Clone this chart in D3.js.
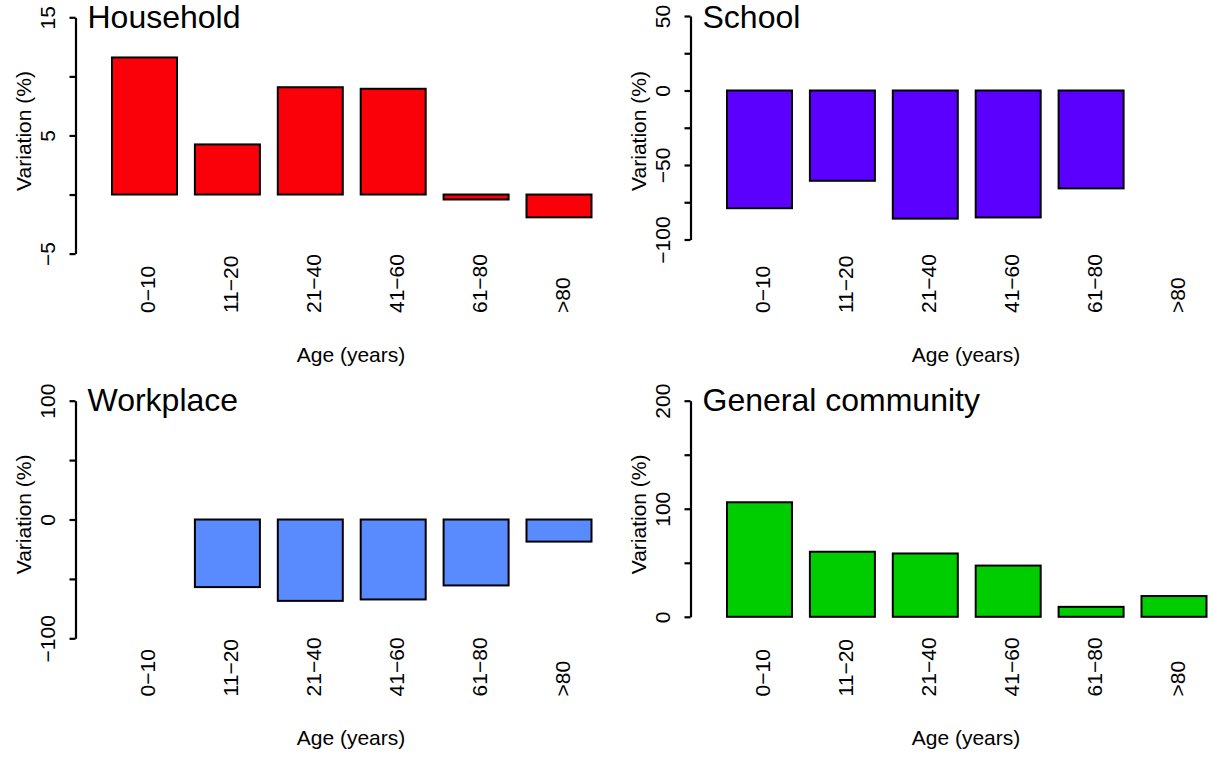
<!DOCTYPE html>
<html>
<head>
<meta charset="utf-8">
<script src="https://cdn.jsdelivr.net/npm/d3@7"></script>
<style>
  html, body { margin: 0; padding: 0; background: #fff; }
  svg { display: block; font-family: "Liberation Sans", Arial, Helvetica, sans-serif; }
</style>
</head>
<body>
<svg id="chart" width="1212" height="757"></svg>
<script>
// Age groups shared by all four settings
const ageGroups = ["0\u221210", "11\u221220", "21\u221240", "41\u221260", "61\u221280", ">80"];

// Variation (%) in contacts per age group; null = no value for that group
const household = [11.6, 4.24, 9.08, 8.95, -0.42, -1.93];
const school    = [-79.0, -60.6, -86.0, -85.2, -65.7, null];
const workplace = [null, -56.9, -68.5, -67.3, -55.5, -18.6];
const community = [106.0, 60.2, 58.6, 47.4, 9.2, 19.2];

// Y-axis ticks and the subset that carries a label
const householdTicks  = [-5, 0, 5, 10, 15];
const householdLabels = [-5, 5, 15];
const schoolTicks     = [-100, -75, -50, -25, 0, 25, 50];
const schoolLabels    = [-100, -50, 0, 50];
const workplaceTicks  = [-100, -50, 0, 50, 100];
const workplaceLabels = [-100, 0, 100];
const communityTicks  = [0, 50, 100, 150, 200];
const communityLabels = [0, 100, 200];

const titles = ["Household", "School", "Workplace", "General community"];
const colors = ["#fa0008", "#5b00ff", "#598bff", "#00cd00"];

// Panel layout (2 x 2 grid)
const colOffset = [0, 615];
const rowOffset = [0, 383.4];

const panels = [
  { title: titles[0], values: household, ticks: householdTicks, labels: householdLabels, color: colors[0], col: 0, row: 0, yBottom: 253.6, yTop: 17.3 },
  { title: titles[1], values: school,    ticks: schoolTicks,    labels: schoolLabels,    color: colors[1], col: 1, row: 0, yBottom: 239.5, yTop: 16.0 },
  { title: titles[2], values: workplace, ticks: workplaceTicks, labels: workplaceLabels, color: colors[2], col: 0, row: 1, yBottom: 254.9, yTop: 17.3 },
  { title: titles[3], values: community, ticks: communityTicks, labels: communityLabels, color: colors[3], col: 1, row: 1, yBottom: 233.4, yTop: 17.3 }
];

const svg = d3.select("#chart");
const fmt = d3.format("d");

const step = 82.9;        // distance between bar centres
const barWidth = 65;      // geometric bar width
const firstCenter = 144.5;
const axisGap = 69;       // axis line sits this far left of the first bar centre

panels.forEach(p => {
  const ox = colOffset[p.col];
  const oy = rowOffset[p.row];
  const g = svg.append("g").attr("transform", `translate(${ox},${oy})`);

  const bandStart = firstCenter - step / 2;
  const x = d3.scaleBand()
    .domain(ageGroups)
    .range([bandStart, bandStart + step * ageGroups.length])
    .paddingInner(1 - barWidth / step)
    .paddingOuter((1 - barWidth / step) / 2);

  const y = d3.scaleLinear()
    .domain([d3.min(p.ticks), d3.max(p.ticks)])
    .range([p.yBottom, p.yTop]);

  const axisX = firstCenter - axisGap;

  // Bars
  const rows = ageGroups.map((a, i) => ({ age: a, v: p.values[i] })).filter(d => d.v !== null);
  g.selectAll("rect.bar")
    .data(rows)
    .join("rect")
    .attr("class", "bar")
    .attr("x", d => x(d.age))
    .attr("width", x.bandwidth())
    .attr("y", d => Math.min(y(d.v), y(0)))
    .attr("height", d => Math.abs(y(d.v) - y(0)))
    .attr("fill", p.color)
    .attr("stroke", "#000")
    .attr("stroke-width", 2);

  // Y axis
  const axis = d3.axisLeft(y)
    .tickValues(p.ticks)
    .tickSize(6)
    .tickSizeOuter(0)
    .tickFormat(d => p.labels.includes(d) ? fmt(d) : "");
  const ag = g.append("g").attr("transform", `translate(${axisX},0)`).call(axis);
  ag.select(".domain").attr("stroke", "#000").attr("stroke-width", 2.2);
  ag.selectAll(".tick line").attr("stroke", "#000").attr("stroke-width", 2.2);
  ag.selectAll(".tick text")
    .attr("x", null).attr("y", null).attr("dy", null)
    .attr("transform", "translate(-20.5,0) rotate(-90)")
    .attr("text-anchor", "middle")
    .attr("fill", "#000")
    .style("font-size", "21px")
    .style("font-family", "'Liberation Sans', Arial, sans-serif");

  // Category labels (vertical)
  g.selectAll("text.cat")
    .data(ageGroups)
    .join("text")
    .attr("class", "cat")
    .attr("transform", d => `translate(${x(d) + x.bandwidth() / 2 + 10.5},313) rotate(-90)`)
    .attr("text-anchor", "start")
    .style("font-size", "21px")
    .text(d => d);

  // Axis titles
  g.append("text")
    .attr("transform", `translate(${axisX - 45},131) rotate(-90)`)
    .attr("text-anchor", "middle")
    .style("font-size", "21px")
    .text("Variation (%)");

  g.append("text")
    .attr("x", 351)
    .attr("y", 361.5)
    .attr("text-anchor", "middle")
    .style("font-size", "21px")
    .text("Age (years)");

  // Panel title
  g.append("text")
    .attr("x", axisX + 12)
    .attr("y", 27.5)
    .style("font-size", "32px")
    .text(p.title);
});
</script>
</body>
</html>
